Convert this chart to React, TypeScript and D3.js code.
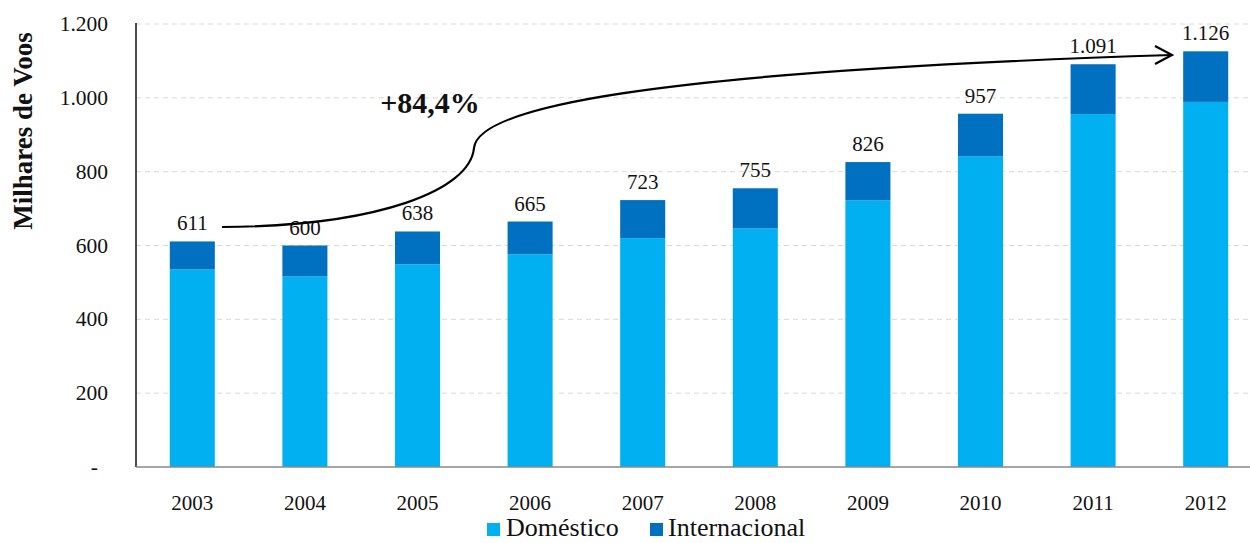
import React from "react";
import * as d3 from "d3";

const years = ["2003", "2004", "2005", "2006", "2007", "2008", "2009", "2010", "2011", "2012"];
const domestico = [535, 516, 549, 576, 620, 646, 722, 841, 956, 989];
const totais = [611, 600, 638, 665, 723, 755, 826, 957, 1091, 1126];
const yTicks = [0, 200, 400, 600, 800, 1000, 1200];

const W = 1250;
const H = 543;
const margin = { left: 136, top: 24, bottom: 76 };
const plotRight = 1262;

const fmt = (v: number) => (v === 0 ? "-" : d3.format(",")(v).replace(/,/g, "."));

const App = () => {
  const x = d3.scaleBand().domain(years).range([margin.left, plotRight]).paddingInner(0.6).paddingOuter(0.3);
  const y = d3.scaleLinear().domain([0, 1200]).range([H - margin.bottom, margin.top]);
  const bw = x.bandwidth();

  // curved arrow from 2003 label to 2012
  const arrowPath =
    "M222,227 C380,226 470,190 474,148 C478,108 640,72 1172,55";

  return (
    <svg
      width={W}
      height={H}
      style={{ position: "absolute", left: 0, top: 0, fontFamily: '"Liberation Serif", "DejaVu Serif", serif' }}
    >
      {yTicks.map((t) =>
        t === 0 ? null : (
          <line key={t} x1={margin.left} x2={W} y1={y(t)} y2={y(t)} stroke="#d9d9d9" strokeDasharray="5,4" />
        )
      )}
      {years.map((yr, i) => {
        const x0 = x(yr)!;
        return (
          <g key={yr}>
            <rect x={x0} width={bw} y={y(domestico[i])} height={y(0) - y(domestico[i])} fill="#00B0F0" />
            <rect x={x0} width={bw} y={y(totais[i])} height={y(domestico[i]) - y(totais[i])} fill="#0070C0" />
            <text x={x0 + bw / 2} y={y(totais[i]) - 11} textAnchor="middle" fontSize={21} fill="#111">
              {fmt(totais[i])}
            </text>
            <text x={x0 + bw / 2} y={510} textAnchor="middle" fontSize={21} fill="#111">
              {yr}
            </text>
          </g>
        );
      })}
      <line x1={margin.left} x2={margin.left} y1={margin.top - 1} y2={y(0)} stroke="#111" strokeWidth={1.5} />
      <line x1={margin.left} x2={W} y1={y(0)} y2={y(0)} stroke="#888" strokeWidth={1.5} />
      {yTicks.map((t) => (
        <text
          key={t}
          x={t === 0 ? 98 : 108}
          y={y(t)}
          dy="0.33em"
          textAnchor="end"
          fontSize={21.5}
          fill="#111"
        >
          {fmt(t)}
        </text>
      ))}
      <text
        transform={`translate(32,131) rotate(-90)`}
        textAnchor="middle"
        fontSize={27}
        fontWeight="bold"
        fill="#111"
      >
        Milhares de Voos
      </text>
      <path d={arrowPath} fill="none" stroke="#000" strokeWidth={2.2} />
      <path d="M1155,46 L1172,55 L1155,64" fill="none" stroke="#000" strokeWidth={2.2} />
      <text x={430} y={113} textAnchor="middle" fontSize={30} fontWeight="bold" fill="#111">
        +84,4%
      </text>
      <rect x={487} y={523} width={13} height={13} fill="#00B0F0" />
      <text x={506} y={536} fontSize={26} fill="#111">Doméstico</text>
      <rect x={650} y={523} width={13} height={13} fill="#0070C0" />
      <text x={668} y={536} fontSize={26} fill="#111">Internacional</text>
    </svg>
  );
};

export default App;
